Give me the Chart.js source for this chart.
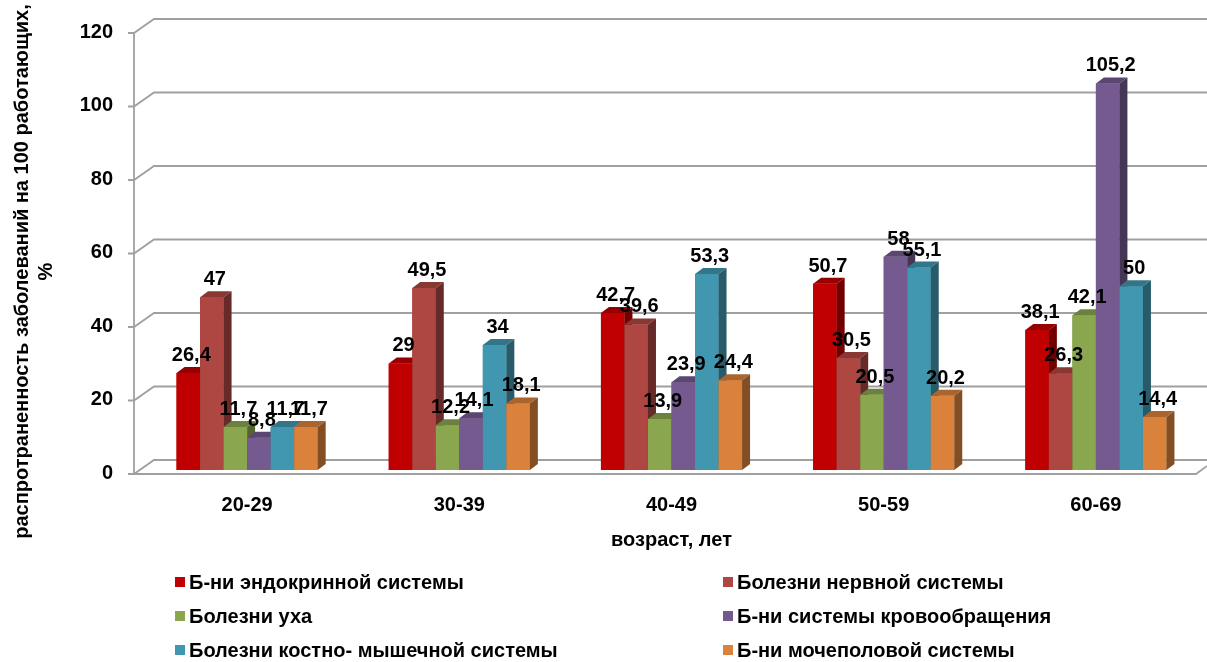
<!DOCTYPE html>
<html>
<head>
<meta charset="utf-8">
<script src="https://cdn.jsdelivr.net/npm/chart.js@4.4.1/dist/chart.umd.min.js"></script>
<style>
  html, body { margin: 0; padding: 0; background: #fff; }
  #wrap { position: relative; width: 1207px; height: 662px; }
  #legend {
    position: absolute; left: 175px; top: 565px;
    display: grid; grid-template-columns: 548px 420px; grid-auto-rows: 34px;
    font: bold 20px "Liberation Sans Narrow", "Arial Narrow", Arial, sans-serif; color: #000;
  }
  #legend div { display: flex; align-items: center; white-space: nowrap; }
  #legend span { display: inline-block; width: 10px; height: 10px; margin-right: 4px; }
</style>
</head>
<body>
<div id="wrap">
  <canvas id="bar-chart" width="1207" height="662"></canvas>
  <div id="legend"></div>
</div>
<script>
const ageGroups = ['20-29', '30-39', '40-49', '50-59', '60-69'];
const seriesNames = [
    'Б-ни эндокринной системы',
    'Болезни нервной системы',
    'Болезни уха',
    'Б-ни системы кровообращения',
    'Болезни костно- мышечной системы',
    'Б-ни мочеполовой системы'
];
const endocrine = [26.4, 29, 42.7, 50.7, 38.1];
const nervous = [47, 49.5, 39.6, 30.5, 26.3];
const ear = [11.7, 12.2, 13.9, 20.5, 42.1];
const circulatory = [8.8, 14.1, 23.9, 58, 105.2];
const musculoskeletal = [11.7, 34, 53.3, 55.1, 50];
const genitourinary = [11.7, 18.1, 24.4, 20.2, 14.4];
const seriesValues = [endocrine, nervous, ear, circulatory, musculoskeletal, genitourinary];
const colors = ['#C00000', '#AE4642', '#8AA64E', '#745A8F', '#4297B0', '#DA823C'];

const FONT = '"Liberation Sans Narrow", "Arial Narrow", Arial, sans-serif';
const DX = 8, DY = -6;     // bar depth
const WX = 20, WY = -14;   // wall depth

function shade(hex, f) {
    const n = parseInt(hex.slice(1), 16);
    const r = Math.round(((n >> 16) & 255) * f);
    const g = Math.round(((n >> 8) & 255) * f);
    const b = Math.round((n & 255) * f);
    return `rgb(${r},${g},${b})`;
}

// fake 3d: walls, bar tops/sides and value labels
const box3d = {
    id: 'box3d',
    beforeDraw(chart) {
        const ys = chart.scales.y;
        if (!ys._shifted) {
            const orig = ys.drawTitle.bind(ys);
            ys.drawTitle = function () {
                this.ctx.save();
                this.ctx.translate(0, 22);
                orig();
                this.ctx.restore();
            };
            ys._shifted = true;
        }
    },
    beforeDatasetsDraw(chart) {
        const {ctx, chartArea: a, scales: {y}} = chart;
        const fx = a.left - 7, bx = fx + WX;
        ctx.save();
        ctx.strokeStyle = '#a0a0a0';
        ctx.lineWidth = 1.8;
        y.ticks.forEach(t => {
            const fy = y.getPixelForValue(t.value) + 4;
            ctx.beginPath();
            ctx.moveTo(fx - 6, fy);
            ctx.lineTo(fx, fy);
            ctx.lineTo(bx, fy + WY);
            ctx.lineTo(chart.width, fy + WY);
            ctx.stroke();
        });
        const y0 = y.getPixelForValue(0) + 4;
        ctx.beginPath();
        ctx.moveTo(fx, y.getPixelForValue(y.max) + 4);
        ctx.lineTo(fx, y0);
        ctx.lineTo(a.right - 6, y0);
        ctx.lineTo(a.right + 5, y0 - 8);
        ctx.stroke();
        ctx.restore();
    },
    afterDatasetsDraw(chart) {
        const ctx = chart.ctx;
        const metas = chart.data.datasets.map((ds, i) => chart.getDatasetMeta(i));
        ctx.save();
        // redraw left to right so each bar hides the side of its left neighbour
        ageGroups.forEach((g, j) => {
            metas.forEach((meta, i) => {
                const bar = meta.data[j];
                bar.draw(ctx);
                const {x, y, base, width} = bar.getProps(['x', 'y', 'base', 'width'], true);
                const l = x - width / 2, r = x + width / 2;
                ctx.fillStyle = shade(colors[i], 0.78);
                ctx.beginPath();
                ctx.moveTo(l, y); ctx.lineTo(r, y); ctx.lineTo(r + DX, y + DY); ctx.lineTo(l + DX, y + DY);
                ctx.closePath(); ctx.fill();
                ctx.fillStyle = shade(colors[i], 0.6);
                ctx.beginPath();
                ctx.moveTo(r, y); ctx.lineTo(r + DX, y + DY); ctx.lineTo(r + DX, base + DY); ctx.lineTo(r, base);
                ctx.closePath(); ctx.fill();
            });
        });
        ctx.font = 'bold 20px ' + FONT;
        ctx.fillStyle = '#000';
        ctx.textAlign = 'center';
        ctx.textBaseline = 'alphabetic';
        metas.forEach((meta, i) => {
            meta.data.forEach((bar, j) => {
                const txt = String(seriesValues[i][j]).replace('.', ',');
                ctx.fillText(txt, bar.x + 3, bar.y - 12);
            });
        });
        ctx.restore();
    }
};

Chart.defaults.font.family = FONT;
Chart.defaults.font.size = 20;
Chart.defaults.font.weight = 'bold';
Chart.defaults.color = '#000';

new Chart(document.getElementById('bar-chart'), {
    type: 'bar',
    data: {
        labels: ageGroups,
        datasets: seriesNames.map((name, i) => ({
            label: name,
            data: seriesValues[i],
            backgroundColor: colors[i],
            borderWidth: 0
        }))
    },
    options: {
        responsive: false,
        animation: false,
        layout: { padding: { top: 29, right: 5, left: 0, bottom: 0 } },
        datasets: { bar: { categoryPercentage: 0.665, barPercentage: 1.0 } },
        plugins: {
            legend: { display: false },
            tooltip: { enabled: false }
        },
        scales: {
            x: {
                grid: { display: false, drawTicks: false },
                border: { display: false },
                ticks: { padding: 23 },
                title: { display: true, text: 'возраст, лет', padding: { top: 0, bottom: 110 } },
                afterFit(scale) { scale.height = 192; }
            },
            y: {
                min: 0, max: 120,
                grid: { display: false, drawTicks: false },
                border: { display: false },
                ticks: { stepSize: 20, padding: 28, labelOffset: 3 },
                title: {
                    display: true,
                    text: ['распротраненность заболеваний на 100 работающих,', '%'],
                    padding: { top: 10, bottom: 0 }
                },
                afterFit(scale) {
                    scale.width = 141;
                    scale.paddingTop = 0;
                    scale.paddingBottom = 0;
                }
            }
        }
    },
    plugins: [box3d]
});

document.getElementById('legend').innerHTML = seriesNames.map((name, i) =>
    `<div><span style="background:${colors[i]}"></span>${name}</div>`).join('');
</script>
</body>
</html>
